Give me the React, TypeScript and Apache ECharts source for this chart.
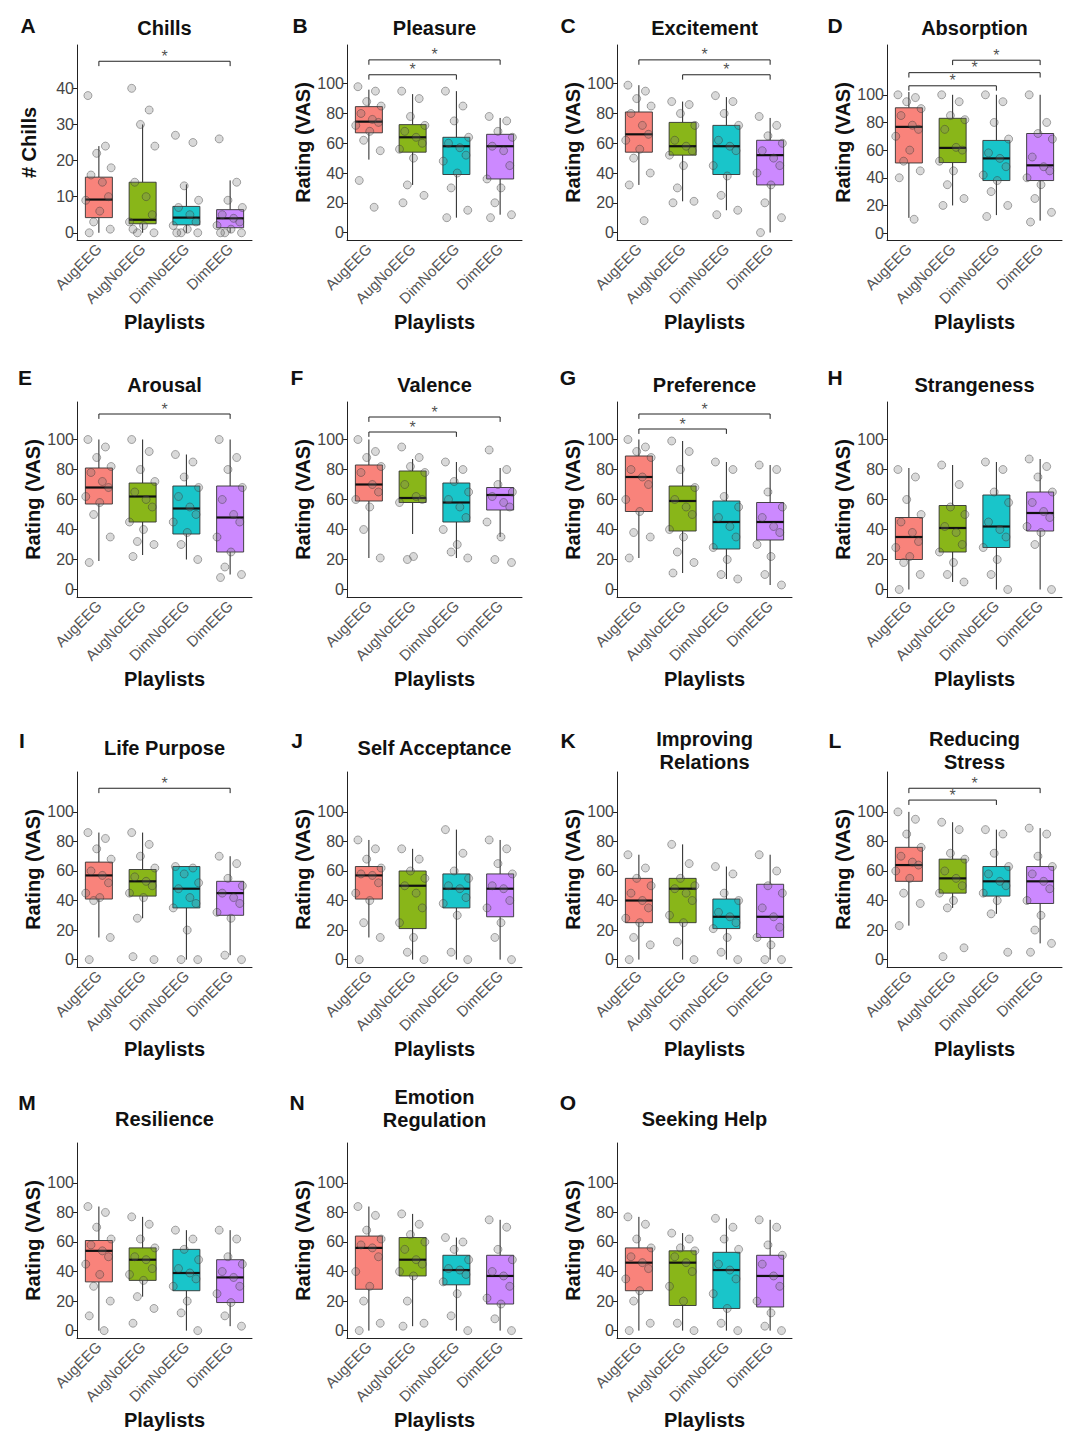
import React, { useEffect, useRef } from "react";
import * as echarts from "echarts";

const CATS = ["AugEEG", "AugNoEEG", "DimNoEEG", "DimEEG"];
const COLORS = ["#F8766D", "#7CAE00", "#00BFC4", "#C77CFF"];
const LETTERS = ["A","B","C","D","E","F","G","H","I","J","K","L","M","N","O"];
const TITLES = ["Chills","Pleasure","Excitement","Absorption","Arousal","Valence","Preference","Strangeness","Life Purpose","Self Acceptance","Improving\nRelations","Reducing\nStress","Resilience","Emotion\nRegulation","Seeking Help"];
const RATING_TICKS = [0, 20, 40, 60, 80, 100];
const CHILLS_TICKS = [0, 10, 20, 30, 40];

// boxes: [min, Q1, median, Q3, max] per playlist
const boxA = [[0,4.2,9.2,15.4,24],[0,2.5,3.6,14,30],[0,2.2,4.2,7.3,13.4],[0,1.4,4,6.4,14.5]];
const boxB = [[49,67,74.5,84.6,96],[32,54,64,72.5,93],[10,39,58,64,95],[12,36,58,66,77]];
const boxC = [[32,54,66,81,99],[21,52,58,74,88],[15,39,58,72,91],[0,32,52,62,77]];
const boxD = [[11,50.7,76.8,90.6,102],[20,51,61.6,83,100],[13,38,54,67,100],[9,38,49,72,100]];
const boxE = [[19,57,68,81,100],[23,45,62,71,100],[20,37,54,69,90],[10,25,48,69,100]];
const boxF = [[21,59,70,83,100],[37,58,61,79,87],[21,45,58,71,85],[35,53,63,68,81]];
const boxG = [[21,52,75,89,100],[11,39,59,69,99],[7,27,45,59,85],[3,33,45,58,83]];
const boxH = [[0,20,35,48,81],[5,25,41,56,83],[0,28,42,63,85],[0,39,51,65,87]];
const boxI = [[15,41,57,66,86],[28,43,53,61,86],[0,35,48,63,63],[3,30,45,53,70]];
const boxJ = [[15,41,57,63,81],[0,21,50,60,75],[0,35,48,58,88],[0,29,48,58,81]];
const boxK = [[0,25,40,55,71],[0,25,48,55,78],[0,21,29,41,63],[0,15,29,51,71]];
const boxL = [[23,53,64,76,100],[35,45,55,68,93],[31,43,53,63,88],[11,38,53,63,89]];
const boxM = [[0,33,54,61,84],[23,34,48,56,77],[0,27,39,55,68],[3,19,36,48,68]];
const boxN = [[0,28,56,64,84],[3,37,48,63,79],[0,31,41,51,63],[0,18,37,51,75]];
const boxO = [[0,27,46,56,77],[0,17,46,54,66],[0,15,41,53,76],[0,16,37,51,75]];

// individual ratings per playlist
const ptsA = [[38,24,22,18,16,14,10,9,6,3,1,0],[40,34,30,24,14,10,5,3,2,0,0,1],[27,25,13,9,7,5,3,2,1,0,0,0],[26,14,9,7,5,4,3,2,1,0,0,0]];
const ptsB = [[98,95,88,85,80,76,74,72,68,62,55,35,17],[95,90,78,72,68,64,60,56,50,32,25,20],[95,85,75,64,60,57,52,48,40,30,15,10],[78,75,68,64,58,55,45,36,30,20,12,10]];
const ptsC = [[99,95,90,85,80,72,66,62,56,50,40,32,8],[88,86,80,72,62,58,55,52,45,30,21,20],[92,88,80,72,62,58,55,45,38,25,15,12],[78,72,65,60,55,50,45,40,32,20,10,0]];
const ptsD = [[100,98,95,90,85,78,75,70,60,52,45,40,10],[100,95,85,82,75,62,60,52,45,35,25,20],[100,95,80,68,58,54,48,42,38,30,20,12],[100,80,72,68,55,48,45,40,35,25,15,8]];
const ptsE = [[100,95,88,82,78,72,68,62,58,50,35,18],[100,92,80,72,65,60,55,45,40,32,30,22],[90,85,75,68,62,55,50,45,38,30,20],[100,88,80,68,60,50,45,35,25,15,10,8]];
const ptsF = [[100,92,88,82,78,70,65,60,55,40,21],[95,88,82,78,70,62,60,58,22,20],[85,80,72,65,60,55,48,40,30,25,21],[93,80,70,65,62,58,55,45,35,20,18]];
const ptsG = [[100,95,92,88,80,75,70,60,52,38,35,21],[99,92,80,68,60,55,50,40,35,25,18,11],[85,80,62,55,48,42,35,28,20,10,7],[83,80,65,55,48,42,38,30,22,10,3]];
const ptsH = [[80,75,60,50,45,38,32,28,22,18,10,0],[83,70,55,50,42,38,30,25,18,10,5],[85,80,65,58,45,40,35,28,20,10,0],[87,82,75,65,58,52,48,42,38,30,0]];
const ptsI = [[86,82,75,68,60,57,52,45,42,40,15,0],[86,78,70,62,56,53,50,45,42,28,0,2],[63,62,58,52,48,42,38,35,20,0,0],[70,65,55,50,45,42,38,32,28,3,0]];
const ptsJ = [[81,75,68,62,58,57,52,45,40,25,15,0],[75,68,60,55,50,45,35,25,15,5,0],[88,72,60,55,50,48,42,38,30,5,0],[81,75,65,58,50,48,40,35,25,15,0]];
const ptsK = [[71,62,55,50,45,40,35,28,25,15,10,0],[78,65,55,50,48,45,40,30,25,12,0],[63,58,45,40,32,29,25,21,15,5,0],[71,60,50,45,35,29,22,15,10,0,0]];
const ptsL = [[100,95,85,76,70,66,64,60,55,45,38,23],[93,88,72,68,60,55,50,45,40,35,8,2],[88,85,72,63,58,53,50,45,40,31,5],[89,85,70,63,58,53,48,40,30,20,11,5]];
const ptsM = [[84,80,70,62,58,54,50,45,38,30,20,10,0],[77,72,62,56,50,48,42,38,34,23,15,5],[68,62,55,48,42,39,35,30,20,12,0],[68,62,50,45,40,36,30,25,19,10,3]];
const ptsN = [[84,78,68,62,58,56,50,40,30,20,5,0],[79,72,65,60,55,48,45,40,37,20,5,3],[63,60,55,48,42,41,38,33,25,10,0],[75,70,55,48,40,37,30,22,18,8,0]];
const ptsO = [[77,72,62,56,50,46,42,35,27,20,5,0],[66,62,56,54,50,46,40,30,20,5,0],[76,70,62,55,45,41,35,25,15,5,0],[75,70,58,51,45,37,30,20,12,3,0]];

// significance brackets: [fromIndex, toIndex, height]
const brA = [[0,3,47.5]];
const brB = [[0,3,116],[0,2,106]];
const brC = [[0,3,116],[1,3,106]];
const brD = [[1,3,125],[0,3,116],[0,2,106.5]];
const brE = [[0,3,117]];
const brF = [[0,3,115],[0,2,105]];
const brG = [[0,3,117],[0,2,107]];
const brI = [[0,3,116]];
const brL = [[0,3,116],[0,2,108]];

const BOXES = [boxA,boxB,boxC,boxD,boxE,boxF,boxG,boxH,boxI,boxJ,boxK,boxL,boxM,boxN,boxO];
const POINTS = [ptsA,ptsB,ptsC,ptsD,ptsE,ptsF,ptsG,ptsH,ptsI,ptsJ,ptsK,ptsL,ptsM,ptsN,ptsO];
const BRACKETS = [brA,brB,brC,brD,brE,brF,brG,[],brI,[],[],brL,[],[],[]];

const JITTER = [-0.25,0.15,-0.05,0.28,-0.18,0.08,0.22,-0.3,0.02,-0.12,0.26,-0.22,0.12];
const COL_LEFT = [77, 347, 617, 887];
const ROW_TOP = [45, 402, 772, 1143];
const LETTER_POS = [[28,25],[300,25],[568,25],[835,25],[25,377],[297,377],[568,377],[835,377],[22,740],[297,740],[568,740],[835,740],[27,1102],[297,1102],[568,1102]];

export default function App() {
  const ref = useRef<HTMLDivElement>(null);
  useEffect(() => {
    const chart = echarts.init(ref.current!, undefined, { renderer: "svg" });
    const grid: any[] = [], xAxis: any[] = [], yAxis: any[] = [], series: any[] = [], graphic: any[] = [];
    for (let p = 0; p < 15; p++) {
      const col = p % 4, row = Math.floor(p / 4);
      const left = COL_LEFT[col], top = ROW_TOP[row], w = 175, h = 195;
      grid.push({ left, top, width: w, height: h, containLabel: false, outerBoundsMode: "none" });
      const chills = p === 0;
      const ymin = chills ? -2 : -5;
      const ymax = chills ? 52 : p === 3 ? 136 : row === 1 ? 125 : row === 0 ? 126 : 127;
      const ticks = chills ? CHILLS_TICKS : RATING_TICKS;
      xAxis.push({
        type: "category", gridIndex: p, data: CATS, position: "bottom",
        name: "Playlists", nameLocation: "middle", nameGap: 72,
        nameTextStyle: { fontSize: 20, fontWeight: "bold", color: "#111", fontFamily: "Liberation Sans" },
        axisLine: { onZero: false, lineStyle: { color: "#222" } }, axisTick: { lineStyle: { color: "#222" }, alignWithLabel: true },
        axisLabel: { rotate: 45, fontSize: 15, color: "#555", margin: 6, interval: 0, fontFamily: "Liberation Sans" },
      });
      xAxis.push({ type: "value", gridIndex: p, min: -0.5, max: 3.5, show: false, axisLine: { onZero: false } });
      yAxis.push({
        type: "value", gridIndex: p, min: ymin, max: ymax, position: "left",
        name: chills ? "# Chills" : "Rating (VAS)", nameLocation: "middle", nameGap: chills ? 38 : 32,
        nameTextStyle: { fontSize: 20, fontWeight: "bold", color: "#111", fontFamily: "Liberation Sans" },
        axisLine: { show: true, onZero: false, lineStyle: { color: "#222" } },
        axisTick: { show: true, customValues: ticks, length: 4, lineStyle: { color: "#222" } },
        axisLabel: { customValues: ticks, fontSize: 16, color: "#444", margin: 3, fontFamily: "Liberation Sans" },
        splitLine: { show: false },
      });
      series.push({
        type: "custom", xAxisIndex: 2 * p + 1, yAxisIndex: p, z: 2,
        data: BOXES[p].map((b, i) => [i, ...b]),
        renderItem: (params: any, api: any) => {
          const i = api.value(0);
          const [x, yMin] = api.coord([i, api.value(1)]);
          const yQ1 = api.coord([i, api.value(2)])[1];
          const yMed = api.coord([i, api.value(3)])[1];
          const yQ3 = api.coord([i, api.value(4)])[1];
          const yMax = api.coord([i, api.value(5)])[1];
          const bw = 27;
          return {
            type: "group",
            children: [
              { type: "line", shape: { x1: x, y1: yMin, x2: x, y2: yQ1 }, style: { stroke: "#222", lineWidth: 1 } },
              { type: "line", shape: { x1: x, y1: yQ3, x2: x, y2: yMax }, style: { stroke: "#222", lineWidth: 1 } },
              { type: "rect", shape: { x: x - bw / 2, y: yQ3, width: bw, height: yQ1 - yQ3 }, style: { fill: COLORS[i], opacity: 0.9, stroke: "#333", lineWidth: 1 } },
              { type: "line", shape: { x1: x - bw / 2, y1: yMed, x2: x + bw / 2, y2: yMed }, style: { stroke: "#111", lineWidth: 2.2 } },
            ],
          };
        },
      });
      const pts: number[][] = [];
      POINTS[p].forEach((g, i) => g.forEach((v, k) => pts.push([i + JITTER[k % JITTER.length], v])));
      series.push({
        type: "scatter", xAxisIndex: 2 * p + 1, yAxisIndex: p, data: pts, symbolSize: 8,
        itemStyle: { color: "rgba(120,120,120,0.35)", borderColor: "rgba(50,50,50,0.5)", borderWidth: 1 }, z: 5,
      });
      const dy = (ymax - ymin) * 0.025;
      BRACKETS[p].forEach(([a, b, y]) => {
        series.push({
          type: "line", xAxisIndex: 2 * p + 1, yAxisIndex: p, symbol: "none",
          data: [[a, y - dy], [a, y], [b, y], [b, y - dy]], lineStyle: { color: "#222", width: 1 },
        });
        series.push({
          type: "scatter", xAxisIndex: 2 * p + 1, yAxisIndex: p, symbolSize: 0, data: [[(a + b) / 2, y]],
          label: { show: true, formatter: "*", position: "top", distance: -3, fontSize: 16, color: "#222" },
        });
      });
      const twoLine = TITLES[p].includes("\n");
      const ty = row < 2 ? top - 17 : twoLine ? (row === 2 ? top - 22 : top - 35) : top - 24;
      graphic.push({
        type: "text", x: left + w / 2, y: ty,
        style: { text: TITLES[p], fill: "#111", align: "center", verticalAlign: "middle", lineHeight: 23, font: "bold 20px 'Liberation Sans'" },
      });
      graphic.push({
        type: "text", x: LETTER_POS[p][0], y: LETTER_POS[p][1],
        style: { text: LETTERS[p], fill: "#111", align: "center", verticalAlign: "middle", font: "bold 21px 'Liberation Sans'" },
      });
    }
    chart.setOption({ animation: false, backgroundColor: "#fff", grid, xAxis, yAxis, series, graphic });
    return () => chart.dispose();
  }, []);
  return <div ref={ref} style={{ width: 1080, height: 1447, margin: -8 }} />;
}
